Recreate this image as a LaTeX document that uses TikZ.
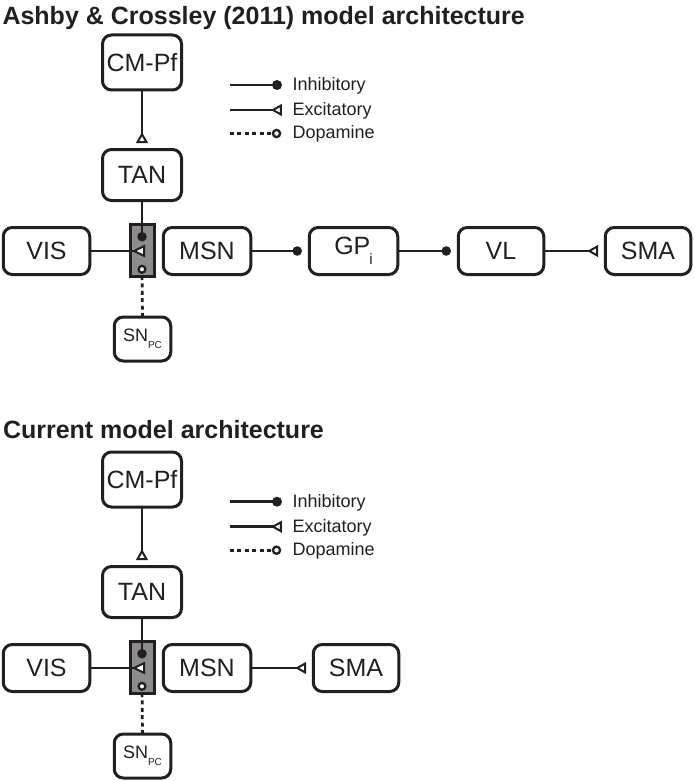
\documentclass[tikz,border=0pt]{standalone}
\usepackage{fontspec}
\setmainfont{Liberation Sans}
\usetikzlibrary{calc}
\definecolor{ink}{RGB}{35,31,32}
\definecolor{synfill}{RGB}{140,140,140}
\newcommand{\tril}[1]{\draw[tri] (#1) -- ++(7.8,-4.4) -- ++(0,8.8) -- cycle;}
\newcommand{\triu}[1]{\draw[tri] (#1) -- ++(-4.4,7.8) -- ++(8.8,0) -- cycle;}
\begin{document}
\begin{tikzpicture}[x=1pt,y=-1pt,
 every node/.style={inner sep=0pt, outer sep=0pt},
 box/.style={draw=ink, line width=3pt, rounded corners=9pt, text=ink, font=\fontsize{25}{25}\selectfont, minimum height=47pt},
 synbox/.style={draw=ink, fill=synfill, line width=2.8pt},
 conn/.style={draw=ink, line width=2.7pt},
 dop/.style={draw=ink, line width=2.7pt, dash pattern=on 4pt off 3.4pt},
 tri/.style={draw=ink, fill=white, line width=2pt, line join=miter},
 ring/.style={draw=ink, fill=white, line width=2.3pt},
 legtext/.style={text=ink, font=\fontsize{18}{18}\selectfont, anchor=base west},
 ttl/.style={text=ink, font=\bfseries\fontsize{25}{25}\selectfont, anchor=base west}
]
\useasboundingbox (0,0) rectangle (694,781);

% ---------------- top diagram ----------------
\node[ttl] (t1) at (2.5,25) {Ashby \& Crossley (2011) model architecture};
\node[box, minimum width=79pt, minimum height=55pt] (cmpf) at (142,62.5) {CM-Pf};
\node[box, minimum width=79pt, minimum height=51pt] (tan) at (142,175) {TAN};
\node[synbox, minimum width=24.5pt, minimum height=52.5pt] (syn) at (142.5,250.5) {};
\node[box, minimum width=86.5pt] (vis) at (46.5,251) {VIS};
\node[box, minimum width=87.5pt] (msn) at (207,251) {MSN};
\node[box, minimum width=88.5pt] (gpi) at (353.5,251) {GP\kern-1pt\raisebox{-10pt}{\fontsize{15}{15}\selectfont i}};
\node[box, minimum width=85.5pt] (vl) at (501,251) {VL};
\node[box, minimum width=85.5pt] (sma) at (648,251) {SMA};
\node[box, minimum width=56.5pt, minimum height=44pt, font=\fontsize{18}{18}\selectfont] (snpc) at (142.5,339) {SN\raisebox{-7pt}{\fontsize{10}{10}\selectfont PC}};

\draw[conn, shorten >=7.5pt] (cmpf.south) -- (tan.north);
\triu{$(tan.north)+(0,-15.3)$}

\coordinate (synI) at ($(syn.center)+(-0.5,-13.8)$);
\coordinate (synE) at ($(syn.center)+(-8.5,0.5)$);
\coordinate (synD) at ($(syn.center)+(-0.5,18.8)$);
\draw[conn] (tan.south) -- (synI);
\fill[ink] (synI) circle (4.8);
\draw[conn] (vis.east) -- (synE);
\draw[tri] (synE) -- ++(10,-4.8) -- ++(0,9.6) -- cycle;
\draw[dop] (snpc.north) -- (synD);
\draw[ring] (synD) circle (3.4);

\draw[conn, shorten >=12pt] (msn.east) -- (gpi.west);
\fill[ink] ($(gpi.west)+(-12,0)$) circle (4.8);
\draw[conn, shorten >=12pt] (gpi.east) -- (vl.west);
\fill[ink] ($(vl.west)+(-12,0)$) circle (4.8);
\draw[conn, shorten >=8pt] (vl.east) -- (sma.west);
\tril{$(sma.west)+(-16,0)$}

% legend top
\coordinate (lgIa) at (230,85); \coordinate (lgIb) at (277,85);
\draw[conn] (lgIa) -- (lgIb); \fill[ink] (lgIb) circle (5);
\node[legtext] (lgIt) at (292.5,90.7) {Inhibitory};
\coordinate (lgEa) at (230,110); \coordinate (lgEb) at (280,110);
\draw[conn] (lgEa) -- (lgEb); \tril{273,110}
\node[legtext] (lgEt) at (292.5,115.7) {Excitatory};
\coordinate (lgDa) at (230,133.5); \coordinate (lgDb) at (276.5,133.5);
\draw[dop] (lgDa) -- (lgDb); \draw[ring] (lgDb) circle (3.6);
\node[legtext] (lgDt) at (292.5,139) {Dopamine};

% ---------------- bottom diagram ----------------
\node[ttl] (t2) at (3,438.3) {Current model architecture};
\node[box, minimum width=79pt, minimum height=55pt] (cmpf2) at (142,479.5) {CM-Pf};
\node[box, minimum width=79pt, minimum height=51pt] (tan2) at (142,592) {TAN};
\node[synbox, minimum width=24.5pt, minimum height=52.5pt] (syn2) at (142.5,667.5) {};
\node[box, minimum width=86.5pt] (vis2) at (46.5,668) {VIS};
\node[box, minimum width=87.5pt] (msn2) at (207,668) {MSN};
\node[box, minimum width=85.5pt] (sma2) at (356,668) {SMA};
\node[box, minimum width=56.5pt, minimum height=44pt, font=\fontsize{18}{18}\selectfont] (snpc2) at (142.5,756) {SN\raisebox{-7pt}{\fontsize{10}{10}\selectfont PC}};

\draw[conn, shorten >=7.5pt] (cmpf2.south) -- (tan2.north);
\triu{$(tan2.north)+(0,-15.3)$}

\coordinate (synI2) at ($(syn2.center)+(-0.5,-13.8)$);
\coordinate (synE2) at ($(syn2.center)+(-8.5,0.5)$);
\coordinate (synD2) at ($(syn2.center)+(-0.5,18.8)$);
\draw[conn] (tan2.south) -- (synI2);
\fill[ink] (synI2) circle (4.8);
\draw[conn] (vis2.east) -- (synE2);
\draw[tri] (synE2) -- ++(10,-4.8) -- ++(0,9.6) -- cycle;
\draw[dop] (snpc2.north) -- (synD2);
\draw[ring] (synD2) circle (3.4);

\draw[conn, shorten >=8pt] (msn2.east) -- (sma2.west);
\tril{$(sma2.west)+(-16,0)$}

% legend bottom
\coordinate (lgIa2) at (230,501.7); \coordinate (lgIb2) at (277,501.7);
\draw[conn] (lgIa2) -- (lgIb2); \fill[ink] (lgIb2) circle (5);
\node[legtext] (lgIt2) at (292.5,507.4) {Inhibitory};
\coordinate (lgEa2) at (230,526.7); \coordinate (lgEb2) at (280,526.7);
\draw[conn] (lgEa2) -- (lgEb2); \tril{273,526.7}
\node[legtext] (lgEt2) at (292.5,532.4) {Excitatory};
\coordinate (lgDa2) at (230,550.2); \coordinate (lgDb2) at (276.5,550.2);
\draw[dop] (lgDa2) -- (lgDb2); \draw[ring] (lgDb2) circle (3.6);
\node[legtext] (lgDt2) at (292.5,555.7) {Dopamine};
\end{tikzpicture}
\end{document}
